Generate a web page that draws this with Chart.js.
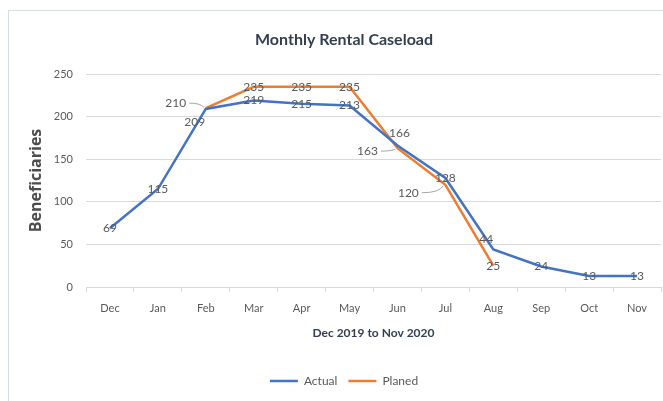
<!DOCTYPE html>
<html><head><meta charset="utf-8">
<script src="https://cdn.jsdelivr.net/npm/chart.js@4.4.0/dist/chart.umd.min.js"></script>
<style>
html,body{margin:0;padding:0;overflow:hidden;background:#fff;width:663px;height:401px}
#c{position:absolute;left:8px;top:10px}
</style></head>
<body><canvas id="c" width="672" height="400"></canvas>
<script>
const months = ['Dec','Jan','Feb','Mar','Apr','May','Jun','Jul','Aug','Sep','Oct','Nov'];
const actual = [69,115,209,219,215,213,166,128,44,24,13,13];
const planned = [null,null,210,235,235,235,163,120,25,null,null,null];
const yTicks = [0,50,100,150,200,250];

const FONT = 'Lato, "Open Sans", sans-serif';
const GRAY = '#595959';

// label offsets (style): [datasetIndex][pointIndex] -> [dx, dy, leader]
const labelOffsets = {
  0: {2: [-11, 13], 6: [2, -12], 8: [-7, -10]},
  1: {2: [-30, -5, true], 6: [-30, 3, true], 7: [-37, 8, true]}
};

const frame = {
  id: 'frame',
  beforeDraw(chart) {
    const ctx = chart.ctx;
    ctx.save();
    ctx.fillStyle = '#fff';
    ctx.fillRect(0, 0, chart.width, chart.height);
    ctx.strokeStyle = '#d6dce4';
    ctx.lineWidth = 1;
    ctx.strokeRect(0.5, 0.5, chart.width - 1, chart.height - 1);
    ctx.restore();
  }
};

const valueLabels = {
  id: 'valueLabels',
  afterDatasetsDraw(chart) {
    const ctx = chart.ctx;
    ctx.save();
    ctx.font = '12px ' + FONT;
    ctx.fillStyle = GRAY;
    ctx.textAlign = 'center';
    ctx.textBaseline = 'middle';
    chart.data.datasets.forEach((ds, di) => {
      const meta = chart.getDatasetMeta(di);
      meta.data.forEach((pt, i) => {
        const v = ds.data[i];
        if (v === null || v === undefined) return;
        const off = (labelOffsets[di] && labelOffsets[di][i]) || [0, 0];
        const x = pt.x + off[0], y = pt.y + off[1];
        ctx.fillText(String(v), x, y);
        if (off[2]) {
          const w = ctx.measureText(String(v)).width;
          ctx.strokeStyle = '#a6a6a6';
          ctx.lineWidth = 1;
          ctx.beginPath();
          ctx.moveTo(x + w / 2 + 3, y);
          ctx.quadraticCurveTo(pt.x - 6, y, pt.x - 2, pt.y + (off[1] > 0 ? 1 : -1));
          ctx.stroke();
        }
      });
    });
    ctx.restore();
  }
};

new Chart(document.getElementById('c'), {
  type: 'line',
  data: {
    labels: months,
    datasets: [
      {label: 'Actual', data: actual, borderColor: '#4472c4', backgroundColor: '#4472c4', borderWidth: 2.5, pointRadius: 0, tension: 0},
      {label: 'Planed', data: planned, borderColor: '#ed7d31', backgroundColor: '#ed7d31', borderWidth: 2.5, pointRadius: 0, tension: 0}
    ]
  },
  plugins: [frame, valueLabels],
  options: {
    responsive: false,
    animation: false,
    devicePixelRatio: 1,
    layout: {padding: {left: 0, right: 0, top: 0, bottom: 13}},
    plugins: {
      title: {display: true, text: 'Monthly Rental Caseload', color: '#333f50',
        font: {family: FONT, size: 16, weight: 'bold'}, padding: {top: 20, bottom: 24.8}},
      legend: {position: 'bottom',
        labels: {usePointStyle: true, pointStyle: 'line', pointStyleWidth: 28, color: GRAY,
          font: {family: FONT, size: 12}, padding: 11}},
      tooltip: {enabled: false}
    },
    scales: {
      x: {
        offset: true,
        grid: {display: true, drawOnChartArea: false, drawTicks: true, tickLength: 5, offset: true, color: '#d9d9d9'},
        border: {display: true, color: '#d9d9d9'},
        ticks: {color: GRAY, font: {family: FONT, size: 11}, padding: 10, maxRotation: 0},
        title: {display: true, text: 'Dec 2019 to Nov 2020', color: '#333f50',
          font: {family: FONT, size: 12, weight: 'bold'}, padding: {top: 0, bottom: 23.8}},
        afterFit(s) { s.height = 77; }
      },
      y: {
        min: 0, max: 250,
        afterBuildTicks(s) { s.ticks = yTicks.map(v => ({value: v})); },
        grid: {color: '#d9d9d9', drawTicks: false},
        border: {display: false},
        ticks: {color: GRAY, font: {family: FONT, size: 11}, padding: 13},
        title: {display: true, text: 'Beneficiaries', color: '#4d4d4d',
          font: {family: '"Open Sans", sans-serif', size: 16, weight: 'bold'}, padding: {top: 19, bottom: 0}},
        afterFit(s) { s.width = 78; }
      },
      yRight: {
        type: 'linear', position: 'right', min: 0, max: 1,
        grid: {display: false, drawTicks: false},
        border: {display: false},
        ticks: {display: false},
        afterFit(s) { s.width = 19; }
      }
    }
  }
});
</script>
</body></html>
